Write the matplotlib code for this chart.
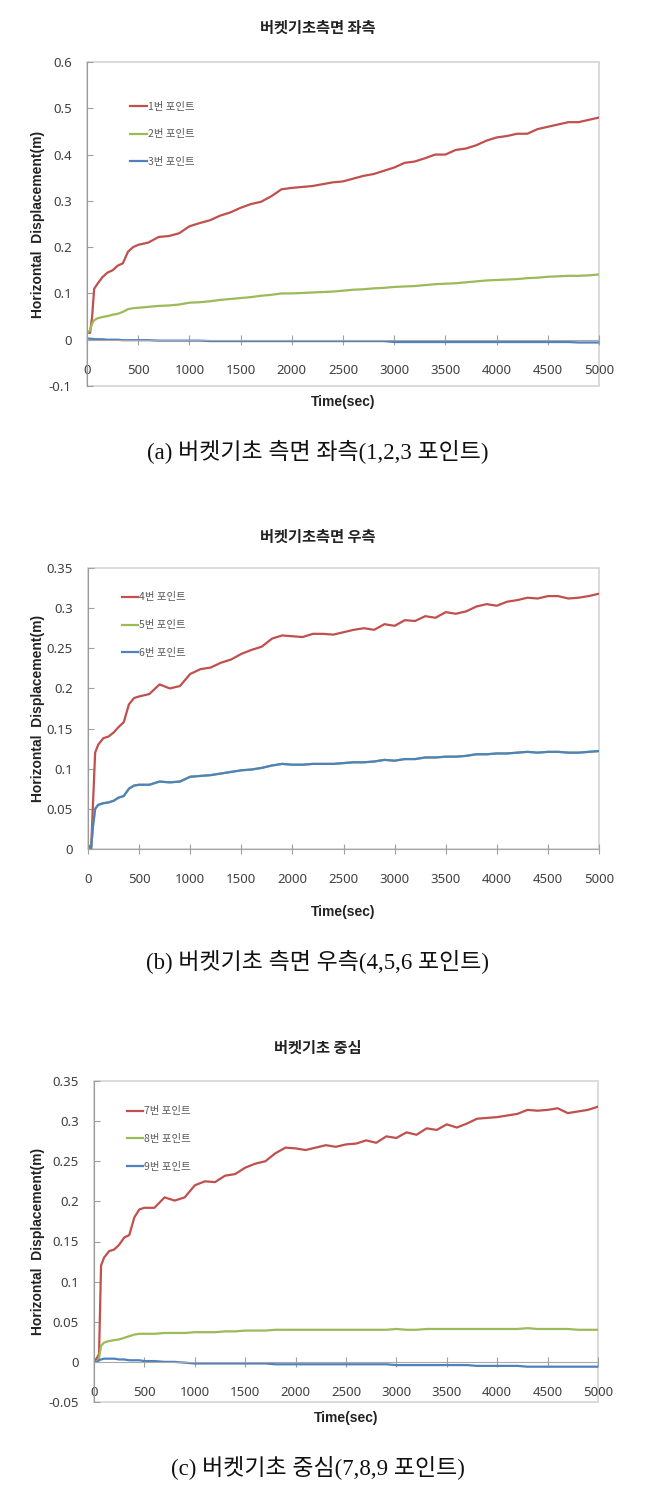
import matplotlib
matplotlib.use("Agg")
from matplotlib import pyplot as plt
from matplotlib.patches import Rectangle

plt.rcParams["font.family"] = ["Noto Sans", "Noto Sans CJK KR", "DejaVu Sans"]

W, H = 647, 1492

# time axis (sec)
time_sec = [0, 30, 50, 70, 100, 150, 200, 250, 300, 350, 400, 450, 500,
            600, 700, 800, 900, 1000, 1100, 1200, 1300, 1400, 1500,
            1600, 1700, 1800, 1900, 2000, 2100, 2200, 2300, 2400, 2500,
            2600, 2700, 2800, 2900, 3000, 3100, 3200, 3300, 3400, 3500,
            3600, 3700, 3800, 3900, 4000, 4100, 4200, 4300, 4400, 4500,
            4600, 4700, 4800, 4900, 5000]

# (a) left side, points 1-3
pt1 = [0.015, 0.015, 0.05, 0.11, 0.12, 0.135, 0.145, 0.15, 0.16, 0.165, 0.19, 0.2, 0.205,
       0.21, 0.222, 0.224, 0.23, 0.245, 0.252, 0.258, 0.268, 0.275, 0.285,
       0.293, 0.298, 0.31, 0.325, 0.328, 0.33, 0.332, 0.336, 0.34, 0.342,
       0.348, 0.354, 0.358, 0.365, 0.372, 0.382, 0.385, 0.392, 0.4, 0.4,
       0.41, 0.413, 0.42, 0.43, 0.437, 0.44, 0.445, 0.445, 0.455, 0.46,
       0.465, 0.47, 0.47, 0.475, 0.48]
pt2 = [0.015, 0.02, 0.035, 0.042, 0.046, 0.049, 0.051, 0.054, 0.056, 0.06, 0.066, 0.068, 0.069,
       0.071, 0.073, 0.074, 0.076, 0.08, 0.081, 0.083, 0.086, 0.088, 0.09,
       0.092, 0.095, 0.097, 0.1, 0.1, 0.101, 0.102, 0.103, 0.104, 0.106,
       0.108, 0.109, 0.111, 0.112, 0.114, 0.115, 0.116, 0.118, 0.12, 0.121,
       0.122, 0.124, 0.126, 0.128, 0.129, 0.13, 0.131, 0.133, 0.134, 0.136,
       0.137, 0.138, 0.138, 0.139, 0.141]
pt3 = [0.003, 0.002, 0.002, 0.001, 0.001, 0.001, 0.0, 0.0, 0.0, -0.001, -0.001, -0.001, -0.001,
       -0.001, -0.002, -0.002, -0.002, -0.002, -0.002, -0.003, -0.003, -0.003, -0.003,
       -0.003, -0.003, -0.003, -0.003, -0.003, -0.003, -0.003, -0.003, -0.003, -0.003,
       -0.003, -0.003, -0.003, -0.003, -0.005, -0.005, -0.005, -0.005, -0.005, -0.005,
       -0.005, -0.005, -0.005, -0.005, -0.005, -0.005, -0.005, -0.005, -0.005, -0.005,
       -0.005, -0.005, -0.006, -0.006, -0.006]

# (b) right side, points 4-6 (point 5 lies under point 6)
pt4 = [0.005, 0.0, 0.06, 0.12, 0.13, 0.138, 0.14, 0.145, 0.152, 0.158, 0.18, 0.188, 0.19,
       0.193, 0.205, 0.2, 0.203, 0.218, 0.224, 0.226, 0.232, 0.236, 0.243,
       0.248, 0.252, 0.262, 0.266, 0.265, 0.264, 0.268, 0.268, 0.267, 0.27,
       0.273, 0.275, 0.273, 0.28, 0.278, 0.285, 0.284, 0.29, 0.288, 0.295,
       0.293, 0.296, 0.302, 0.305, 0.303, 0.308, 0.31, 0.313, 0.312, 0.315,
       0.315, 0.312, 0.313, 0.315, 0.318]
pt6 = [0.005, 0.0, 0.03, 0.05, 0.055, 0.057, 0.058, 0.06, 0.064, 0.066, 0.075, 0.079, 0.08,
       0.08, 0.084, 0.083, 0.084, 0.09, 0.091, 0.092, 0.094, 0.096, 0.098,
       0.099, 0.101, 0.104, 0.106, 0.105, 0.105, 0.106, 0.106, 0.106, 0.107,
       0.108, 0.108, 0.109, 0.111, 0.11, 0.112, 0.112, 0.114, 0.114, 0.115,
       0.115, 0.116, 0.118, 0.118, 0.119, 0.119, 0.12, 0.121, 0.12, 0.121,
       0.121, 0.12, 0.12, 0.121, 0.122]
pt5 = list(pt6)

# (c) centre, points 7-9
pt7 = [0.0, 0.005, 0.01, 0.12, 0.13, 0.138, 0.14, 0.146, 0.155, 0.158, 0.18, 0.19, 0.192,
       0.192, 0.205, 0.201, 0.205, 0.22, 0.225, 0.224, 0.232, 0.234, 0.242,
       0.247, 0.25, 0.26, 0.267, 0.266, 0.264, 0.267, 0.27, 0.268, 0.271,
       0.272, 0.276, 0.273, 0.281, 0.279, 0.286, 0.283, 0.291, 0.289, 0.296,
       0.292, 0.297, 0.303, 0.304, 0.305, 0.307, 0.309, 0.314, 0.313, 0.314,
       0.316, 0.31, 0.312, 0.314, 0.318]
pt8 = [0.0, 0.0, 0.005, 0.02, 0.024, 0.026, 0.027, 0.028, 0.03, 0.032, 0.034, 0.035, 0.035,
       0.035, 0.036, 0.036, 0.036, 0.037, 0.037, 0.037, 0.038, 0.038, 0.039,
       0.039, 0.039, 0.04, 0.04, 0.04, 0.04, 0.04, 0.04, 0.04, 0.04,
       0.04, 0.04, 0.04, 0.04, 0.041, 0.04, 0.04, 0.041, 0.041, 0.041,
       0.041, 0.041, 0.041, 0.041, 0.041, 0.041, 0.041, 0.042, 0.041, 0.041,
       0.041, 0.041, 0.04, 0.04, 0.04]
pt9 = [0.0, 0.0, 0.002, 0.003, 0.004, 0.004, 0.004, 0.003, 0.003, 0.002, 0.002, 0.002, 0.001,
       0.001, 0.0, 0.0, -0.001, -0.002, -0.002, -0.002, -0.002, -0.002, -0.002,
       -0.002, -0.002, -0.003, -0.003, -0.003, -0.003, -0.003, -0.003, -0.003, -0.003,
       -0.003, -0.003, -0.003, -0.003, -0.004, -0.004, -0.004, -0.004, -0.004, -0.004,
       -0.004, -0.004, -0.005, -0.005, -0.005, -0.005, -0.005, -0.006, -0.006, -0.006,
       -0.006, -0.006, -0.006, -0.006, -0.006]

xticks = [0, 500, 1000, 1500, 2000, 2500, 3000, 3500, 4000, 4500, 5000]
yticks_a = [-0.1, 0, 0.1, 0.2, 0.3, 0.4, 0.5, 0.6]
yticks_b = [0, 0.05, 0.1, 0.15, 0.2, 0.25, 0.3, 0.35]
yticks_c = [-0.05, 0, 0.05, 0.1, 0.15, 0.2, 0.25, 0.3, 0.35]

titles = ["버켓기초측면 좌측", "버켓기초측면 우측", "버켓기초 중심"]
captions = ["(a) 버켓기초 측면 좌측(1,2,3 포인트)",
            "(b) 버켓기초 측면 우측(4,5,6 포인트)",
            "(c) 버켓기초 중심(7,8,9 포인트)"]
labels_a = ["1번 포인트", "2번 포인트", "3번 포인트"]
labels_b = ["4번 포인트", "5번 포인트", "6번 포인트"]
labels_c = ["7번 포인트", "8번 포인트", "9번 포인트"]

colors = ["#C0504D", "#9BBB59", "#4F81BD"]
KR = ["Noto Sans CJK KR", "DejaVu Sans"]
CAP = ["Liberation Serif", "Noto Sans CJK KR"]
BOLD = ["Liberation Sans", "DejaVu Sans"]


def make_panel(fig, box, series, labels, yticks, title, title_y, xlabel_y,
               caption, caption_y, leg_anchor):
    left, top, right, bottom = box
    ax = fig.add_axes([left / W, 1 - bottom / H, (right - left) / W, (bottom - top) / H])
    for s, lab, c in zip(series, labels, colors):
        ax.plot(time_sec, s, color=c, lw=1.6, label=lab)
    ax.set_xlim(0, 5000)
    ax.set_ylim(yticks[0], yticks[-1])
    ax.set_xticks(xticks)
    ax.set_xticklabels([str(v) for v in xticks])
    ax.set_yticks(yticks)
    ax.set_yticklabels(["{:g}".format(v) for v in yticks])

    for sp in ["top", "right"]:
        ax.spines[sp].set_visible(False)
    ax.spines["left"].set_color("#9a9a9a")
    ax.spines["bottom"].set_position(("data", 0))
    ax.spines["bottom"].set_color("#a8a8a8")
    ax.add_patch(Rectangle((0, 0), 1, 1, transform=ax.transAxes, fill=False,
                           ec="#d4d4d4", lw=1.2, zorder=0.5, clip_on=False))
    ax.tick_params(axis="x", direction="inout", length=7, color="#a0a0a0",
                   pad=14, labelsize=9.5, labelcolor="#404040")
    ax.tick_params(axis="y", direction="in", length=4, color="#a0a0a0",
                   pad=11, labelsize=9.5, labelcolor="#404040")

    leg = ax.legend(loc="upper left", bbox_to_anchor=leg_anchor, frameon=False,
                    prop={"family": KR, "size": 7.5}, handlelength=1.6,
                    handletextpad=0.1, labelspacing=1.7, borderpad=0,
                    borderaxespad=0)
    for t in leg.get_texts():
        t.set_color("#595959")

    cx = (left + right) / 2
    fig.text(318 / W, 1 - title_y / H, title, ha="center", va="center",
             family=KR, fontsize=11, fontweight="bold", color="#222222")
    fig.text(cx / W, 1 - xlabel_y / H, "Time(sec)", ha="center", va="center",
             family=BOLD, fontsize=10, fontweight="bold", color="#222222")
    fig.text(38 / W, 1 - (top + bottom) / 2 / H, "Horizontal  Displacement(m)",
             ha="center", va="center", rotation=90, family=BOLD, fontsize=10,
             fontweight="bold", color="#222222")
    fig.text(318 / W, 1 - caption_y / H, caption, ha="center", va="center",
             family=CAP, fontsize=16.5, color="#111111")
    return ax


fig = plt.figure(figsize=(W / 100, H / 100), dpi=100)
fig.patch.set_facecolor("white")

make_panel(fig, (87, 62, 599, 386), [pt1, pt2, pt3], labels_a, yticks_a,
           titles[0], 28, 402, captions[0], 452, (0.084, 0.878))
make_panel(fig, (88, 568, 599, 849), [pt4, pt5, pt6], labels_b, yticks_b,
           titles[1], 537, 912, captions[1], 962, (0.066, 0.913))
make_panel(fig, (94, 1081, 598, 1402), [pt7, pt8, pt9], labels_c, yticks_c,
           titles[2], 1048, 1418, captions[2], 1467, (0.065, 0.921))

fig.savefig("out.png", dpi=100, facecolor="white")
plt.close(fig)
